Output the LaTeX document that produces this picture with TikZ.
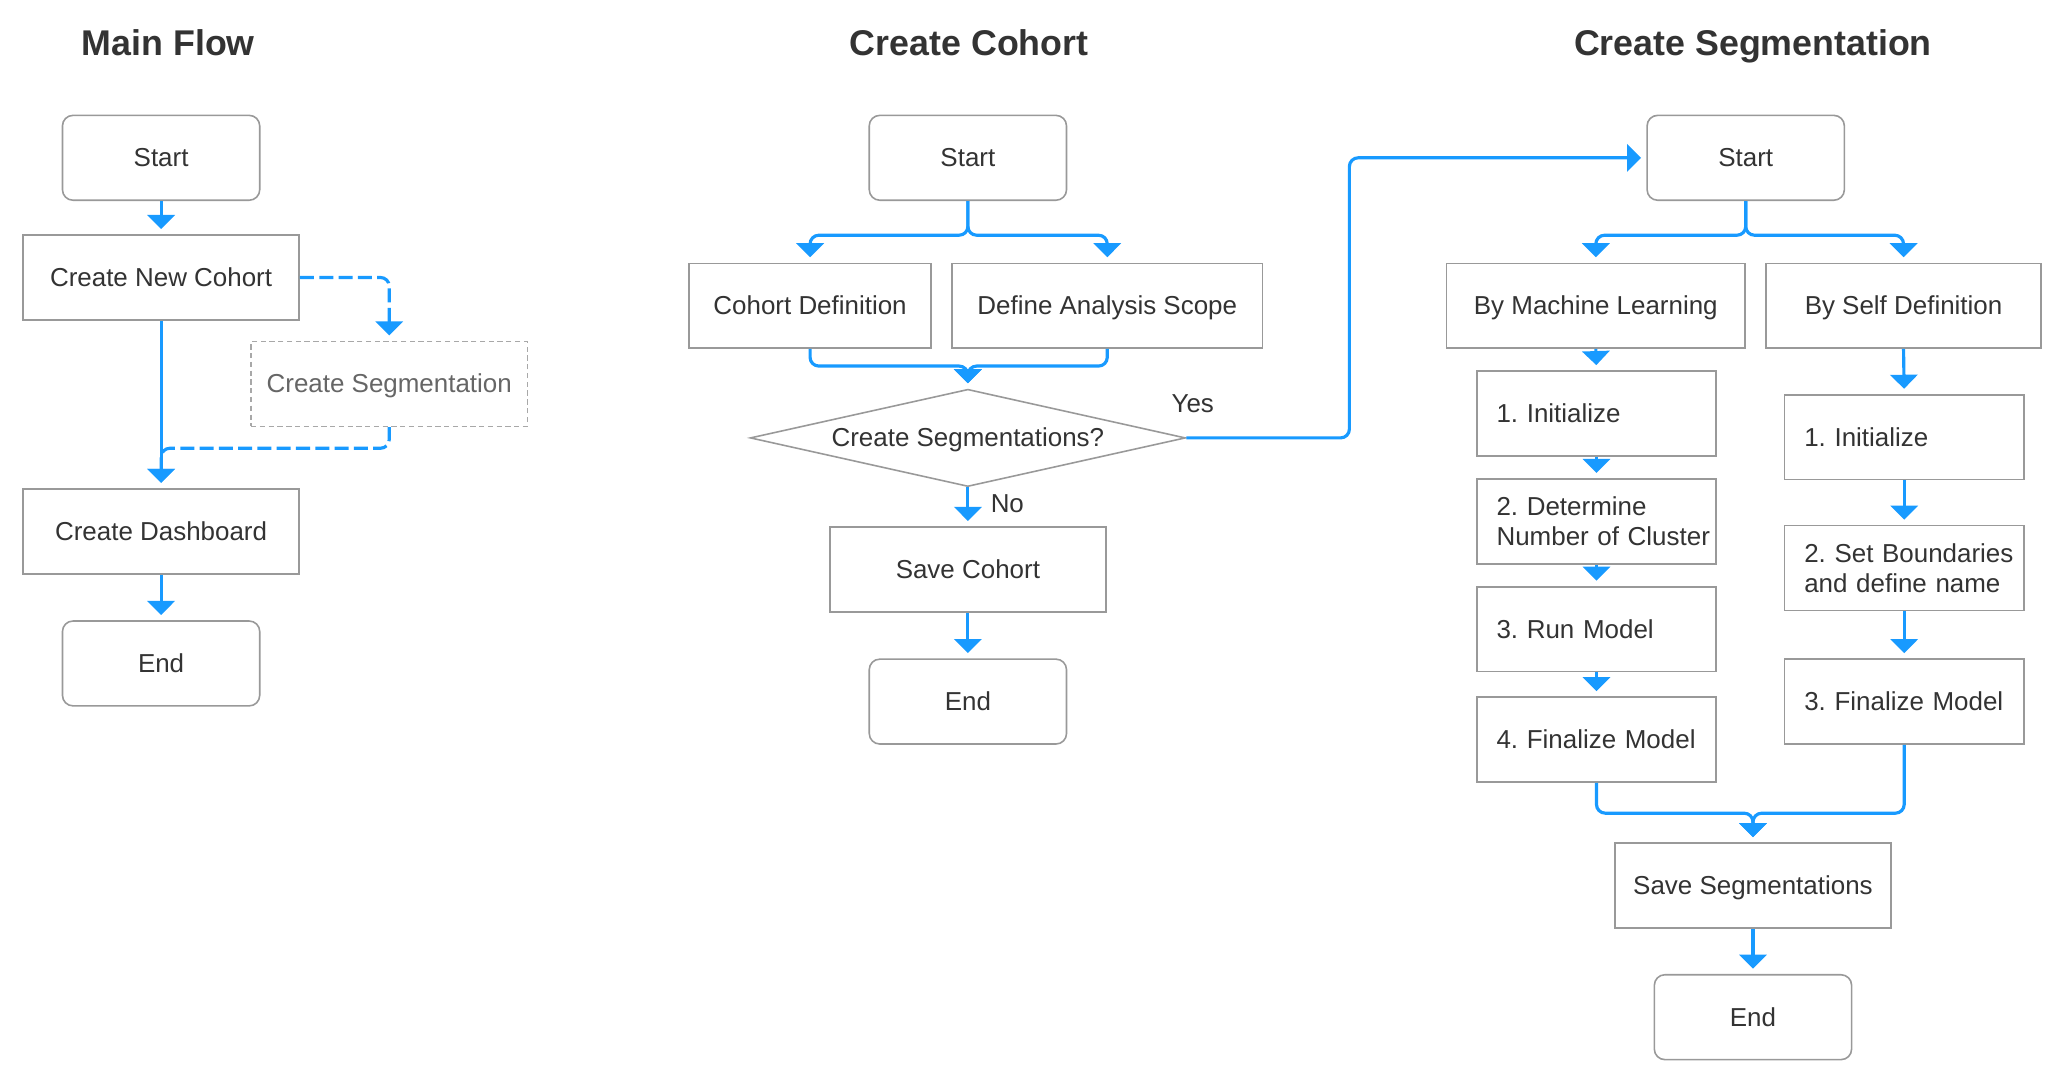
\documentclass[tikz,border=0pt]{standalone}
\usepackage{fontspec}
\setmainfont{Liberation Sans}
\usetikzlibrary{arrows.meta,shapes.geometric}
\definecolor{flowblue}{RGB}{24,154,255}
\definecolor{boxgray}{RGB}{153,153,153}
\definecolor{txt}{RGB}{51,51,51}
\definecolor{dimtxt}{RGB}{102,102,102}
\newcommand\flowbodyfont{\fontsize{14.8}{17.3}\selectfont}
\newcommand\flowtitlefont{\fontsize{20.4}{24}\selectfont\bfseries}
\frenchspacing
\begin{document}
\begin{tikzpicture}[x=0.75pt,y=-0.75pt,
  box/.style={draw=boxgray, line width=0.9pt, minimum height=48.4pt, inner sep=0pt, text=txt, font=\flowbodyfont},
  oneline/.style={text height=13.4pt, text depth=3.14pt},
  term/.style={box, oneline, rounded corners=6pt, minimum width=112.5pt},
  proc/.style={box, oneline, minimum width=157.5pt},
  stepbox/.style={box, text width=114pt, inner xsep=11.25pt, align=left, minimum width=136.5pt},
  flow/.style={draw=flowblue, line width=1.8pt, rounded corners=5pt, -{Triangle[width=15.5pt,length=8pt]}, shorten >=3pt},
  flowdash/.style={flow, dash pattern=on 8pt off 3pt},
  title/.style={font=\flowtitlefont, text=txt, text height=18.46pt, text depth=4.32pt},
  lbl/.style={font=\flowbodyfont, text=txt, inner sep=0pt, oneline}]
\fill[white] (0,0) rectangle (1568,827);
\useasboundingbox (0,0) rectangle (1568,827);

% ---------- Main Flow ----------
\node[title] (t-main) at (128,33) {Main Flow};
\node[term] (m-start) at (122.5,120) {Start};
\node[proc] (m-cnc) at (122.5,211) {Create New Cohort};
\node[proc, draw=boxgray!85, dash pattern=on 3pt off 2pt, text=dimtxt] (m-seg) at (296,292) {Create Segmentation};
\node[proc] (m-dash) at (122.5,404) {Create Dashboard};
\node[term] (m-end) at (122.5,504.5) {End};

\draw[flow] (m-start.south) -- (m-cnc.north);
\draw[flow] (m-cnc.south) -- (m-dash.north);
\draw[flowdash] (m-cnc.east) -| (m-seg.north);
\draw[flowdash] (m-seg.south) -- ++(0,16) -| (m-dash.north);
\draw[flow] (m-dash.south) -- (m-end.north);

% ---------- Create Cohort ----------
\node[title] (t-cohort) at (737,33) {Create Cohort};
\node[term] (c-start) at (736,120) {Start};
\node[box, oneline, minimum width=138pt] (c-def) at (616,232.5) {Cohort Definition};
\node[box, oneline, minimum width=177pt] (c-das) at (842,232.5) {Define Analysis Scope};
\node[diamond, draw=boxgray, line width=0.9pt, aspect=4.47, minimum width=248.25pt, minimum height=55.5pt, inner sep=0pt, text=txt, font=\flowbodyfont, oneline] (c-dec) at (736,333) {Create Segmentations?};
\node[proc] (c-save) at (736,433) {Save Cohort};
\node[term] (c-end) at (736,533.5) {End};
\node[lbl] (c-yes) at (907,307) {Yes};
\node[lbl] (c-no) at (766,383) {No};

\draw[flow] (c-start.south) -- ++(0,26) -| (c-def.north);
\draw[flow] (c-start.south) -- ++(0,26) -| (c-das.north);
\draw[flow] (c-def.south) -- ++(0,13) -| (c-dec.north);
\draw[flow] (c-das.south) -- ++(0,13) -| (c-dec.north);
\draw[flow] (c-dec.south) -- (c-save.north);
\draw[flow] (c-save.south) -- (c-end.north);

% ---------- Create Segmentation ----------
\node[title] (t-seg) at (1333,33) {Create Segmentation};
\node[term] (s-start) at (1327.5,120) {Start};
\node[box, oneline, minimum width=170.25pt] (s-ml) at (1213.5,232.5) {By Machine Learning};
\node[box, oneline, minimum width=156.75pt] (s-sd) at (1447.5,232.5) {By Self Definition};
\node[stepbox] (s-ml1) at (1214,314.5) {\mbox{1. Initialize}};
\node[stepbox] (s-ml2) at (1214,396.5) {\mbox{2. Determine}\\\mbox{Number of Cluster}};
\node[stepbox] (s-ml3) at (1214,478.5) {\mbox{3. Run Model}};
\node[stepbox] (s-ml4) at (1214,562.5) {\mbox{4. Finalize Model}};
\node[stepbox] (s-sd1) at (1448,332.5) {\mbox{1. Initialize}};
\node[stepbox] (s-sd2) at (1448,432) {\mbox{2. Set Boundaries}\\\mbox{and define name}};
\node[stepbox] (s-sd3) at (1448,533.5) {\mbox{3. Finalize Model}};
\node[proc] (s-save) at (1333,673.5) {Save Segmentations};
\node[term] (s-end) at (1333,773.5) {End};

\draw[flow] (c-dec.east) -- ++(124,0) |- (s-start.west);
\draw[flow] (s-start.south) -- ++(0,26) -| (s-ml.north);
\draw[flow] (s-start.south) -- ++(0,26) -| (s-sd.north);
\draw[flow] (s-ml.south) -- (s-ml1.north);
\draw[flow] (s-ml1.south) -- (s-ml2.north);
\draw[flow] (s-ml2.south) -- (s-ml3.north);
\draw[flow] (s-ml3.south) -- (s-ml4.north);
\draw[flow] (s-sd.south) -- (s-sd1.north);
\draw[flow] (s-sd1.south) -- (s-sd2.north);
\draw[flow] (s-sd2.south) -- (s-sd3.north);
\draw[flow] (s-ml4.south) -- ++(0,23) -| (s-save.north);
\draw[flow] (s-sd3.south) -- ++(0,52) -| (s-save.north);
\draw[flow] (s-save.south) -- (s-end.north);
\end{tikzpicture}
\end{document}
